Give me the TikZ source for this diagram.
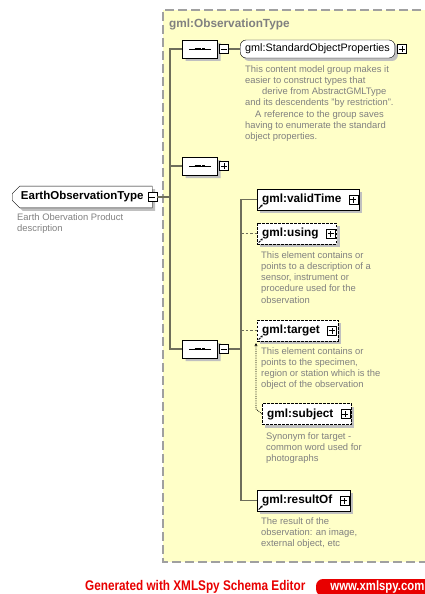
\documentclass[tikz,border=0pt]{standalone}
\usepackage{fontspec}
\setmainfont{Liberation Sans}
\usetikzlibrary{arrows.meta, positioning, shapes.misc, shadows}
\definecolor{schemayellow}{RGB}{255,255,200}
\definecolor{framegray}{RGB}{160,160,160}
\definecolor{linegray}{RGB}{110,110,90}
\definecolor{descgray}{RGB}{128,128,128}
\definecolor{shadowgray}{RGB}{192,192,192}
\definecolor{spyred}{RGB}{232,0,0}

\begin{document}
\begin{tikzpicture}[x=1pt, y=-1pt]

% Define styles for the nodes
\tikzstyle{boxshadow} = [drop shadow={shadow xshift=3pt, shadow yshift=-3pt, fill=shadowgray, opacity=1}]
\tikzstyle{elem} = [rectangle, draw=black, fill=white, boxshadow, anchor=west, minimum height=21pt, inner xsep=5pt, font=\fontsize{11.8}{13}\selectfont\bfseries, execute at end node=\hspace{13pt}]
\tikzstyle{optional} = [elem, dash pattern=on 2.5pt off 1.5pt]
\tikzstyle{ref} = [path picture={\draw[-{Stealth[length=2.4pt,width=2.6pt]}, line width=0.9pt] ([shift={(1.5pt,1.5pt)}]path picture bounding box.south west) -- ++(4pt,4pt);}]
\tikzstyle{seq} = [chamfered rectangle, chamfered rectangle xsep=5pt, draw=black, fill=white, boxshadow, minimum width=35pt, minimum height=18pt, inner sep=0pt,
  path picture={\draw[line width=0.8pt] ([xshift=-11pt]path picture bounding box.center) -- ([xshift=11pt]path picture bounding box.center);
    \draw[line width=2.8pt, dash pattern=on 3pt off 0.8pt] ([xshift=-5.4pt]path picture bounding box.center) -- ([xshift=5.4pt]path picture bounding box.center);}]
\tikzstyle{group} = [rectangle, rounded corners=6pt, draw=black, fill=white, boxshadow, anchor=west, minimum height=18pt, inner xsep=5pt, font=\fontsize{10.8}{13}\selectfont]
\tikzstyle{pm} = [rectangle, draw=black, fill=white, minimum size=9pt, inner sep=0pt]
\tikzstyle{expand} = [pm, path picture={\draw ([xshift=-3pt]path picture bounding box.center) -- ([xshift=3pt]path picture bounding box.center) ([yshift=-3pt]path picture bounding box.center) -- ([yshift=3pt]path picture bounding box.center);}]
\tikzstyle{collapse} = [pm, path picture={\draw ([xshift=-3pt]path picture bounding box.center) -- ([xshift=3pt]path picture bounding box.center);}]
\tikzstyle{desc} = [anchor=north west, align=left, inner sep=0pt, text=descgray, font=\fontsize{9.4}{11.3}\selectfont]
\tikzstyle{trunk} = [draw=linegray, line width=1.3pt]
\tikzstyle{optline} = [draw=linegray, line width=0.9pt, dash pattern=on 2.5pt off 2pt]

\useasboundingbox (0,0) rectangle (425,594);
\clip (0,0) rectangle (425,594);

% Complex type frame
\fill[schemayellow] (163,10) rectangle (460,562);
\draw[framegray, line width=1.2pt, dash pattern=on 9pt off 4pt] (460,10) -- (163,10) -- (163,562) -- (460,562);
\node (typename) [anchor=west, inner sep=0pt, text=descgray, font=\fontsize{11.8}{13}\selectfont\bfseries] at (169,24) {gml:ObservationType};

% Nodes
\node (eot) [chamfered rectangle, chamfered rectangle corners={north west, south west}, chamfered rectangle xsep=4pt, draw=black, fill=white, boxshadow, anchor=west, minimum width=140pt, minimum height=17pt, inner sep=2pt, font=\fontsize{11.5}{13}\selectfont\bfseries] at (12,197) {EarthObservationType\hspace{6pt}};
\node (eotm) [collapse] at (eot.east) {};
\node (eotdesc) [desc] at (17,213) {Earth Obervation Product\\description};

\node (seq1) [seq] at (200,49) {};
\node (seq1m) [collapse, right=1.5pt of seq1] {};
\node (sop) [group] at (240,49) {gml:StandardObjectProperties};
\node (sopp) [expand, right=2pt of sop] {};
\node (sopdesc) [desc] at (245,65) {This content model group makes it\\easier to construct types that\\\hspace{17pt}derive from AbstractGMLType\\and its descendents "by restriction".\\\hspace{10pt}A reference to the group saves\\having to enumerate the standard\\object properties.};

\node (seq2) [seq] at (200,166) {};
\node (seq2p) [expand, right=1.5pt of seq2] {};

\node (seq3) [seq] at (200,349) {};
\node (seq3m) [collapse, right=1.5pt of seq3] {};

\node (validtime) [elem, ref] at (257,199.5) {gml:validTime};
\node (validtimep) [expand, left=1.5pt of validtime.east] {};

\node (using) [optional, ref] at (257,233.5) {gml:using};
\node (usingp) [expand, left=1.5pt of using.east] {};
\node (usingdesc) [desc] at (261,251) {This element contains or\\points to a description of a\\sensor, instrument or\\procedure used for the\\observation};

\node (target) [optional, ref] at (257,330.5) {gml:target};
\node (targetp) [expand, left=1.5pt of target.east] {};
\node (targetdesc) [desc] at (261,347) {This element contains or\\points to the specimen,\\region or station which is the\\object of the observation};

\node (subject) [optional] at (262,414) {gml:subject};
\node (subjectp) [expand, left=1.5pt of subject.east] {};
\node (subjectdesc) [desc] at (266,432) {Synonym for target -\\common word used for\\photographs};

\node (resultof) [elem, ref] at (257,500.5) {gml:resultOf};
\node (resultofp) [expand, left=1.5pt of resultof.east] {};
\node (resultofdesc) [desc] at (261,517) {The result of the\\observation: an image,\\external object, etc};

\coordinate (fork1) at (170,197);
\coordinate (fork2) at (241,349);

% Connectors
\draw[trunk] (eotm) -- (fork1);
\draw[trunk] (fork1) |- (seq1);
\draw[trunk] (fork1) |- (seq2);
\draw[trunk] (fork1) |- (seq3);
\draw[trunk] (seq1m) -- (sop);
\draw[trunk] (seq3m) -- (fork2);
\draw[trunk] (fork2) |- (validtime);
\draw[trunk] (fork2) |- (resultof);
\draw[optline] (using.west -| fork2) -- (using);
\draw[optline] (target.west -| fork2) -- (target);
\draw[densely dotted, line width=0.8pt, -{Stealth[length=3pt,width=3pt]}] (subject.west) -- ++(-6,-5) coordinate (bend) -- ([yshift=-2pt]bend |- target.south);

% Footer
\fill[spyred, rounded corners=7pt] (316,579) rectangle (470,596);
\node (generated) [anchor=west, inner sep=0pt, xscale=0.84, text=spyred, font=\fontsize{14}{14}\selectfont\bfseries] at (85,586.5) {Generated with XMLSpy Schema Editor};
\node (url) [anchor=east, inner sep=0pt, xscale=0.84, text=white, font=\fontsize{13.5}{14}\selectfont\bfseries] at (424.5,587) {www.xmlspy.com};

\end{tikzpicture}
\end{document}
